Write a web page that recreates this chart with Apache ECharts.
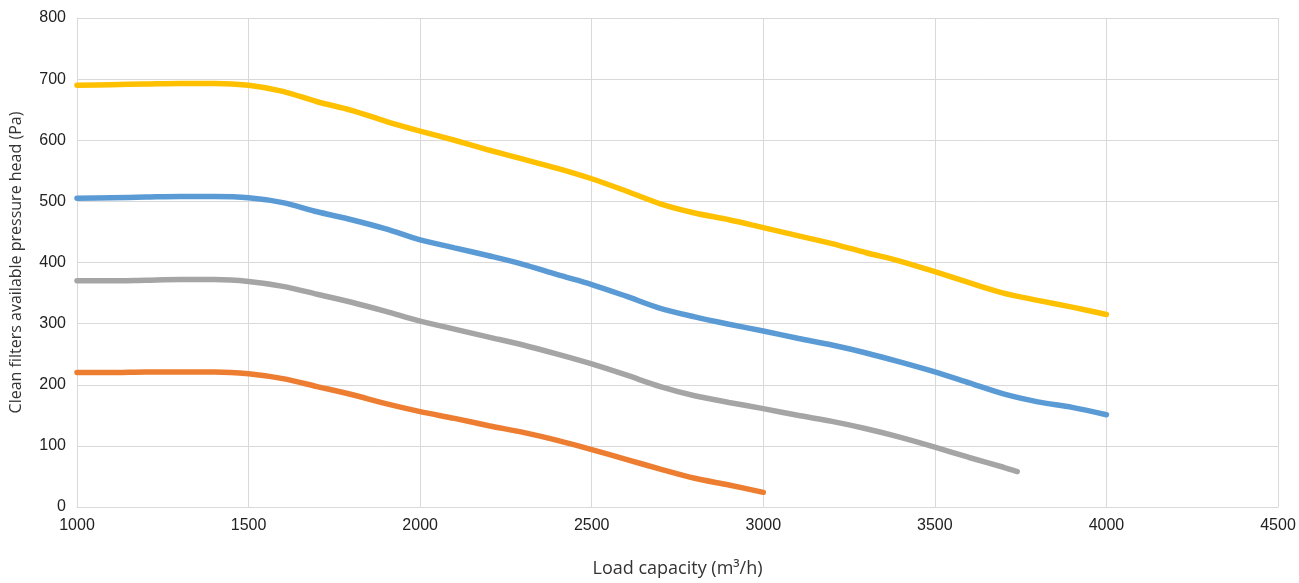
<!DOCTYPE html>
<html>
<head>
<meta charset="utf-8">
<script src="https://cdn.jsdelivr.net/npm/echarts@6/dist/echarts.min.js"></script>
<style>html,body{margin:0;padding:0;background:#fff;}#c{width:1299px;height:583px;}</style>
</head>
<body>
<div id="c"></div>
<script>
const loads = [1000,1100,1200,1300,1400,1500,1600,1700,1800,1900,2000,2100,2200,2300,2400,2500,2600,2700,2800,2900,3000,3100,3200,3300,3400,3500,3600,3700,3800,3900,4000];
const yellowVals = [690,691,692,693,693,690,680,663,649,631,615,600,584,569,554,537,517,496,481,470,457,444,431,416,402,385,367,350,338,327,315];
const blueVals = [505,506,507,508,508,506,498,483,470,455,437,424,411,397,380,364,345,325,311,299,288,276,265,252,237,221,203,185,172,163,151];
const grayLoads = [1000,1100,1200,1300,1400,1500,1600,1700,1800,1900,2000,2100,2200,2300,2400,2500,2600,2700,2800,2900,3000,3100,3200,3300,3400,3500,3600,3700,3740];
const grayVals = [370,370,371,372,372,369,361,348,335,320,304,291,278,265,250,234,216,197,182,171,161,150,140,128,114,98,81,65,58];
const orangeLoads = [1000,1100,1200,1300,1400,1500,1600,1700,1800,1900,2000,2100,2200,2300,2400,2500,2600,2700,2800,2900,3000];
const orangeVals = [220,220,221,221,221,218,210,197,184,169,156,145,133,122,109,94,78,62,47,36,24];
const xTicks = [1000,1500,2000,2500,3000,3500,4000,4500];
const yTicks = [0,100,200,300,400,500,600,700,800];

function pairs(xs, ys){ return xs.map((x,i)=>[x, ys[i]]); }
function line(name, xs, ys, color){
  return {name, type:'line', data:pairs(xs, ys), smooth:0.3, showSymbol:false, symbol:'none',
    lineStyle:{color, width:5.5, cap:'round'}, itemStyle:{color}};
}
const chart = echarts.init(document.getElementById('c'), null, {renderer:'canvas'});
chart.setOption({
  animation:false,
  backgroundColor:'#fff',
  grid:{left:77, right:21, top:18, bottom:73, containLabel:false},
  xAxis:{type:'value', min:xTicks[0], max:xTicks[xTicks.length-1], interval:500,
    name:'Load capacity (m³/h)', nameLocation:'middle', nameGap:53,
    nameTextStyle:{fontFamily:'Open Sans', fontSize:18, color:'#333'},
    axisLine:{show:true, lineStyle:{color:'#d9d9d9', width:1}}, axisTick:{show:false},
    axisLabel:{fontFamily:'Liberation Sans', fontSize:16, color:'#222', margin:11, formatter:v=>String(v)},
    splitLine:{show:true, lineStyle:{color:'#d9d9d9', width:1}}},
  yAxis:{type:'value', min:yTicks[0], max:yTicks[yTicks.length-1], interval:100,
    name:'Clean filters available pressure head (Pa)', nameLocation:'middle', nameGap:53,
    nameTextStyle:{fontFamily:'Open Sans', fontSize:16, color:'#333'},
    axisLine:{show:true, lineStyle:{color:'#d9d9d9', width:1}}, axisTick:{show:false},
    axisLabel:{fontFamily:'Liberation Sans', fontSize:16, color:'#222', margin:11, formatter:v=>String(v)},
    splitLine:{show:true, lineStyle:{color:'#d9d9d9', width:1}}},
  series:[
    line('Yellow', loads, yellowVals, '#FFC000'),
    line('Blue', loads, blueVals, '#5B9BD5'),
    line('Gray', grayLoads, grayVals, '#A5A5A5'),
    line('Orange', orangeLoads, orangeVals, '#ED7D31')
  ]
});
</script>
</body>
</html>
